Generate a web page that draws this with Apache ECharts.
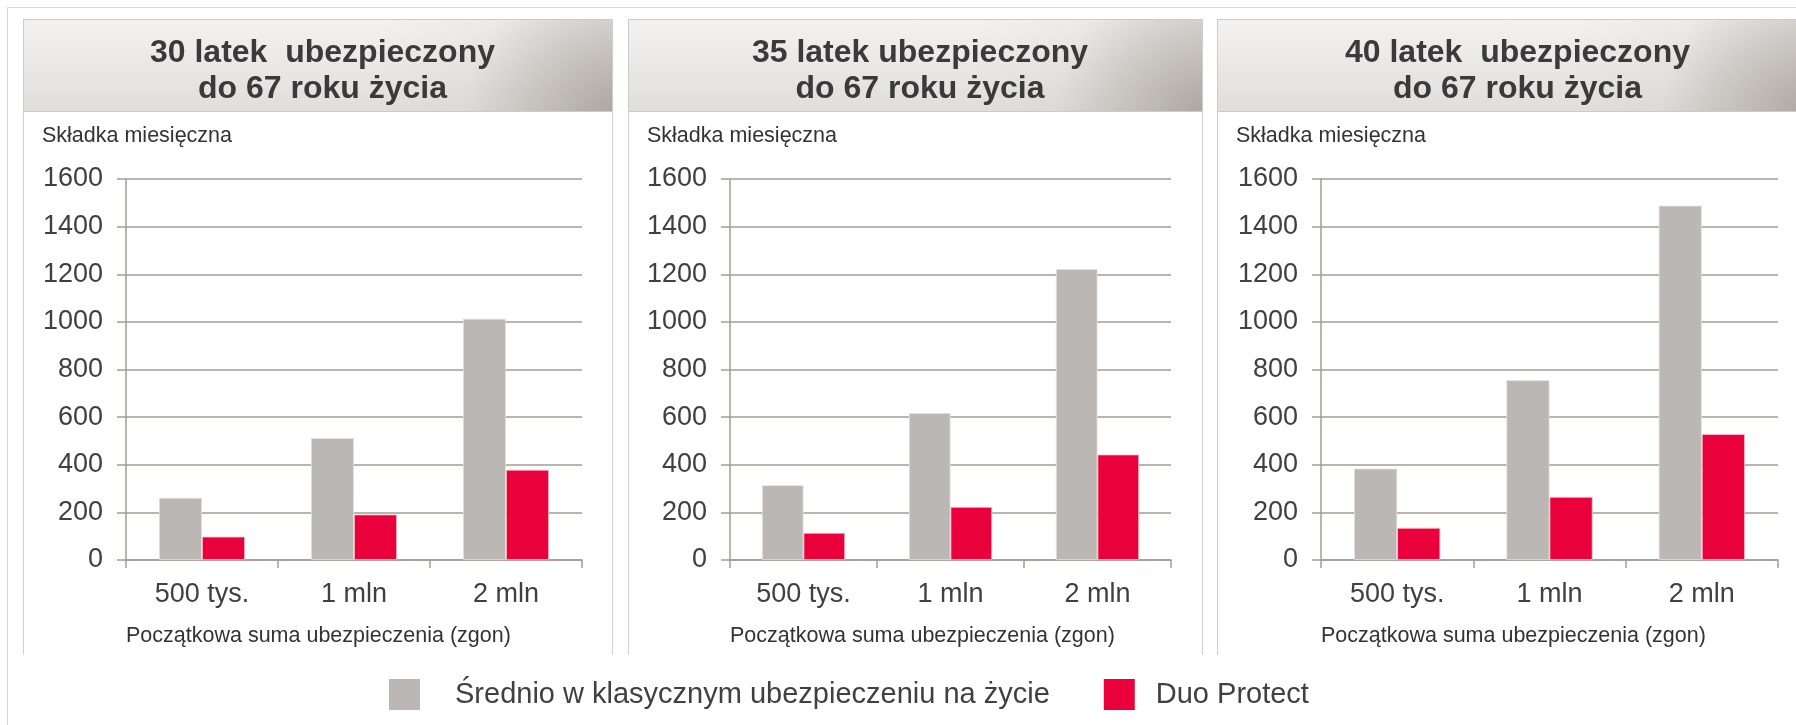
<!DOCTYPE html>
<html>
<head>
<meta charset="utf-8">
<title>Składka miesięczna</title>
<script src="https://cdn.jsdelivr.net/npm/echarts@6/dist/echarts.min.js"></script>
<style>
    html, body { margin: 0; padding: 0; background: #fff; }
    #main { width: 1796px; height: 725px; }
</style>
</head>
<body>
<div id="main"></div>
<script>
// categories (początkowa suma ubezpieczenia)
var categories = ['500 tys.', '1 mln', '2 mln'];
var seriesNames = ['Średnio w klasycznym ubezpieczeniu na życie', 'Duo Protect'];
var panelTitles = [
    '30 latek  ubezpieczony\ndo 67 roku życia',
    '35 latek ubezpieczony\ndo 67 roku życia',
    '40 latek  ubezpieczony\ndo 67 roku życia'
];
// values
var classic30 = [261, 512, 1013];
var duo30 = [98, 191, 379];
var classic35 = [314, 617, 1222];
var duo35 = [114, 223, 443];
var classic40 = [384, 755, 1488];
var duo40 = [135, 265, 529];
var yMin = 0, yMax = 1600, yStep = 200;

var FONT = '"Liberation Sans", Arial, sans-serif';
var TXT = '#404040';
var AXIS = '#a59d95';
var GRAY = '#bbb7b4';
var RED = '#ea003a';

// panel frames and grid boxes (px)
var panels = [
    { x: 23, w: 589, gx: 126, gw: 456 },
    { x: 628, w: 574, gx: 730, gw: 441 },
    { x: 1217, w: 591, gx: 1321, gw: 457 }
];
var classicData = [classic30, classic35, classic40];
var duoData = [duo30, duo35, duo40];

var chart = echarts.init(document.getElementById('main'));

var grids = [], xAxes = [], yAxes = [], series = [], titles = [], graphics = [];

graphics.push({
    type: 'rect', z: -10,
    shape: { x: 7.5, y: 7.5, width: 1820, height: 740 },
    style: { fill: '#fff', stroke: '#d6d6d6', lineWidth: 1 }
});

panels.forEach(function (p, i) {
    var x0 = p.x + 0.5, x1 = p.x + p.w + 0.5;
    // side lines of the panel body
    graphics.push({
        type: 'polyline', z: -5,
        shape: { points: [[x0, 111], [x0, 655]] },
        style: { stroke: '#d0d0d0', lineWidth: 1 }
    });
    graphics.push({
        type: 'polyline', z: -5,
        shape: { points: [[x1, 111], [x1, 655]] },
        style: { stroke: '#d0d0d0', lineWidth: 1 }
    });
    // header box
    graphics.push({
        type: 'rect', z: -4,
        shape: { x: x0, y: 19.5, width: p.w, height: 92 },
        style: {
            fill: new echarts.graphic.LinearGradient(0, 0, 0, 1, [
                { offset: 0, color: '#f3f2f1' },
                { offset: 1, color: '#e0dedb' }
            ]),
            stroke: '#cbcbcb', lineWidth: 1
        }
    });
    graphics.push({
        type: 'rect', z: -3, silent: true,
        shape: { x: x0 + 0.5, y: 20, width: p.w - 1, height: 91 },
        style: {
            fill: new echarts.graphic.LinearGradient(0, 0, 1, 0, [
                { offset: 0, color: 'rgba(110,100,90,0)' },
                { offset: 0.6, color: 'rgba(110,100,90,0)' },
                { offset: 1, color: 'rgba(110,100,90,0.1)' }
            ])
        }
    });
    graphics.push({
        type: 'rect', z: -2, silent: true,
        shape: { x: x0 + 0.5, y: 20, width: p.w - 1, height: 91 },
        style: {
            fill: new echarts.graphic.RadialGradient(1, 1, 1.6, [
                { offset: 0, color: 'rgba(120,110,100,0.42)' },
                { offset: 1, color: 'rgba(120,110,100,0)' }
            ])
        }
    });
    graphics.push({
        type: 'text', z: 5,
        style: {
            x: p.x + 19, y: 136, text: 'Składka miesięczna',
            font: '21.5px ' + FONT, fill: '#333', verticalAlign: 'middle'
        }
    });
    graphics.push({
        type: 'text', z: 5,
        style: {
            x: p.gx, y: 636, text: 'Początkowa suma ubezpieczenia (zgon)',
            font: '21.5px ' + FONT, fill: '#333', verticalAlign: 'middle'
        }
    });

    titles.push({
        text: panelTitles[i],
        left: p.x + p.w / 2,
        top: 30,
        textAlign: 'center',
        textStyle: { fontFamily: FONT, fontSize: 32, fontWeight: 'bold', color: '#3a3a3a', lineHeight: 36 }
    });

    grids.push({ left: p.gx, top: 179, width: p.gw, height: 381 });

    xAxes.push({
        type: 'category', gridIndex: i, data: categories,
        axisLine: { lineStyle: { color: AXIS, width: 1.5 } },
        axisTick: { show: true, length: 8, lineStyle: { color: AXIS, width: 1.5 } },
        axisLabel: { fontFamily: FONT, fontSize: 27, color: TXT, margin: 21 }
    });
    yAxes.push({
        type: 'value', gridIndex: i, min: yMin, max: yMax, interval: yStep,
        axisLine: { show: true, lineStyle: { color: AXIS, width: 1.5 } },
        axisTick: { show: true, length: 9, lineStyle: { color: AXIS, width: 1.5 } },
        splitLine: { lineStyle: { color: AXIS, width: 1.5 } },
        axisLabel: {
            fontFamily: FONT, fontSize: 27, color: TXT, margin: 23,
            formatter: function (v) { return String(v); }
        }
    });

    series.push({
        name: seriesNames[0], type: 'bar', xAxisIndex: i, yAxisIndex: i,
        data: classicData[i], barWidth: '28.3%', barGap: '0%',
        itemStyle: { color: GRAY, borderColor: '#e4e2e0', borderWidth: 0.8 }
    });
    series.push({
        name: seriesNames[1], type: 'bar', xAxisIndex: i, yAxisIndex: i,
        data: duoData[i], barWidth: '28.3%', barGap: '0%',
        itemStyle: { color: RED, borderColor: '#f2c6d0', borderWidth: 0.8 }
    });
});

chart.setOption({
    animation: false,
    title: titles,
    grid: grids,
    xAxis: xAxes,
    yAxis: yAxes,
    series: series,
    graphic: graphics,
    legend: {
        data: [
            { name: seriesNames[0], textStyle: { padding: [0, 0, 0, 30] } },
            { name: seriesNames[1], textStyle: { padding: [0, 0, 0, 16] } }
        ],
        left: 384, top: 674,
        itemWidth: 31, itemHeight: 31, itemGap: 54,
        icon: 'rect',
        itemStyle: { borderWidth: 0 },
        textStyle: { fontFamily: FONT, fontSize: 29, color: TXT }
    }
});
</script>
</body>
</html>
